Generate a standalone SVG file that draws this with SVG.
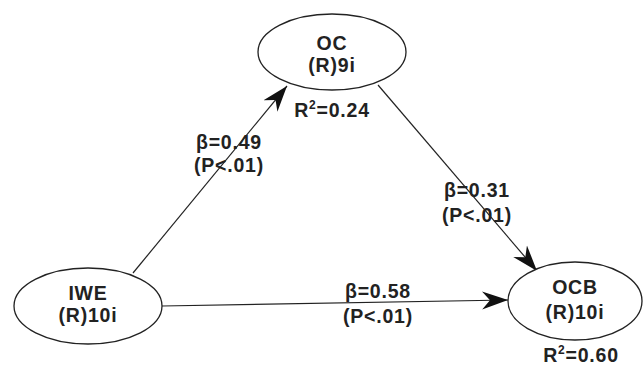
<svg xmlns="http://www.w3.org/2000/svg" width="644" height="367" viewBox="0 0 644 367">
<style>
.n{fill:#fff;stroke:#222;stroke-width:1.3}
.t{font-family:"Liberation Sans",Arial,sans-serif;font-weight:bold;font-size:19.5px;letter-spacing:0.8px;fill:#222;text-anchor:middle}
.c{stroke:#222;stroke-width:1.2;fill:none;marker-end:url(#ah)}
</style>
<defs>
<marker id="ah" markerUnits="userSpaceOnUse" markerWidth="28" markerHeight="22" refX="26" refY="11" orient="auto">
<path d="M26,11 L0,2 L8,11 L0,20 Z" fill="#111"/>
</marker>
</defs>
<rect width="644" height="367" fill="#fff"/>
<g id="connectors">
<line class="c" x1="133" y1="273" x2="287" y2="86"/>
<line class="c" x1="378" y1="85" x2="537" y2="271"/>
<line class="c" x1="162" y1="306" x2="508" y2="300"/>
</g>
<g id="OC">
<ellipse class="n" cx="332" cy="52" rx="74" ry="38"/>
<text class="t" x="332" y="50">OC</text>
<text class="t" x="332" y="72">(R)9i</text>
<text class="t" x="332" y="117">R<tspan font-size="12" dy="-8">2</tspan><tspan dy="8">=0.24</tspan></text>
</g>
<g id="IWE">
<ellipse class="n" cx="88" cy="306" rx="74" ry="38"/>
<text class="t" x="88" y="300">IWE</text>
<text class="t" x="88" y="322">(R)10i</text>
</g>
<g id="OCB">
<ellipse class="n" cx="575" cy="301" rx="67" ry="39"/>
<text class="t" x="575" y="294">OCB</text>
<text class="t" x="575" y="319">(R)10i</text>
<text class="t" x="581" y="362">R<tspan font-size="12" dy="-8">2</tspan><tspan dy="8">=0.60</tspan></text>
</g>
<g id="labels">
<text class="t" x="229" y="149">β=0.49</text>
<text class="t" x="229" y="172">(P&lt;.01)</text>
<text class="t" x="477" y="197">β=0.31</text>
<text class="t" x="477" y="222">(P&lt;.01)</text>
<text class="t" x="378" y="298">β=0.58</text>
<text class="t" x="378" y="323">(P&lt;.01)</text>
</g>
</svg>
